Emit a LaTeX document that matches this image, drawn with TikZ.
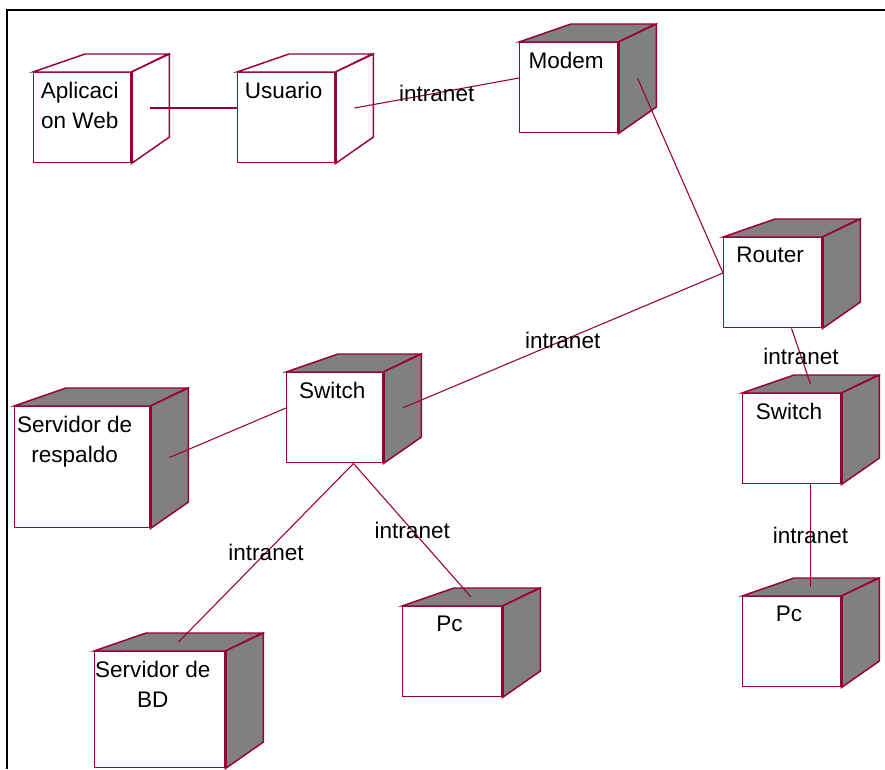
\documentclass[tikz,border=0pt]{standalone}
\usepackage{fontspec}
\setmainfont{Liberation Sans}
\usetikzlibrary{calc}
\definecolor{rosered}{RGB}{153,0,51}
\definecolor{boxgray}{RGB}{128,128,128}
\tikzset{
        devface/.style = {rectangle, draw=rosered, fill=white, line width=1.1pt,
            inner sep=0pt, anchor=north west},
        devside/.style = {draw=rosered, line width=1.1pt, line join=miter},
        devtext/.style = {align=center, inner sep=0pt, text=black,
            font=\fontsize{16.9}{22.5}\selectfont},
        link/.style = {draw=rosered, line width=0.8pt},
        lbl/.style = {inner sep=0pt, text=black, font=\fontsize{16.9}{20}\selectfont}
    }

% 3D node box: #1 name, #2,#3 top left of the front face, #4 width, #5 height,
% #6 colour of top and side, #7 text
\newcommand{\devbox}[7]{
    \node [devface, minimum width=#4*0.75pt, minimum height=#5*0.75pt] (#1) at (#2,#3) {};
    \filldraw [devside, fill=#6] (#1.north west) -- ++(52,-18) -- ++(#4-14,0)
        -- (#1.north east) -- cycle;
    \filldraw [devside, fill=#6] (#1.north east) -- ++(38,-18) -- ++(0,#5-7)
        -- (#1.south east) -- cycle;
    \draw [rosered, line width=1.9pt] (#1.north east) -- (#1.south east);
    % wider boxes keep their text a bit further left
    \node [devtext, anchor=north] (#1-txt)
        at ([xshift={-2pt-(#4-98)*0.1pt},yshift=-7.5pt]#1.north) {#7};
    % attachment points: side, top and bottom
    \coordinate (#1-s) at ([shift={(19,{(#5-18)/2})}]#1.north east);
    \coordinate (#1-t) at ([shift={({(#4+39)/2},-9)}]#1.north west);
    \coordinate (#1-b) at ([shift={({(#4+39)/2},0)}]#1.south west);
}

\begin{document}
\begin{tikzpicture}[x=0.75pt, y=-0.75pt]
    \useasboundingbox (0,0) rectangle (885,769);
    \draw [line width=1.5pt] (7,769) -- (7,10) -- (885,10);

    % nodes
    \devbox{aplweb}{33}{72}{97}{90}{white}{Aplicaci\\on Web}
    \devbox{usuario}{237}{72}{97}{90}{white}{Usuario}
    \devbox{modem}{519}{42}{98}{90}{boxgray}{Modem}
    \devbox{router}{723}{237}{98}{90}{boxgray}{Router}
    \devbox{switchA}{286}{372}{96}{90}{boxgray}{Switch}
    \devbox{respaldo}{14}{406}{135}{121}{boxgray}{Servidor de\\respaldo}
    \devbox{servbd}{94}{651}{130}{116}{boxgray}{Servidor de\\BD}
    \devbox{pcA}{402}{606}{99}{90}{boxgray}{Pc}
    \devbox{switchB}{742}{393}{98}{90}{boxgray}{Switch}
    \devbox{pcB}{742}{596}{98}{90}{boxgray}{Pc}

    % links
    \draw [link] (aplweb-s) -- (usuario.west |- usuario-s);
    \draw [link] (usuario-s) -- node [lbl] (net1) {intranet} (modem.west |- modem-s);
    \draw [link] (modem-s) -- (router.west |- router-s);
    \draw [link] (router.west |- router-s) -- node [lbl] (net2) {intranet} (switchA-s);
    \draw [link] (switchA.west |- switchA-s) -- (respaldo-s);
    \draw [link] (switchA-b) -- node [lbl] (net3) {intranet} (servbd-t);
    \draw [link] (switchA-b) -- node [lbl] (net4) {intranet} (pcA-t);
    \draw [link] (router-b) -- node [lbl] (net5) {intranet} (switchB-t);
    \draw [link] (switchB-b) -- node [lbl] (net6) {intranet} (pcB-t);
\end{tikzpicture}
\end{document}
